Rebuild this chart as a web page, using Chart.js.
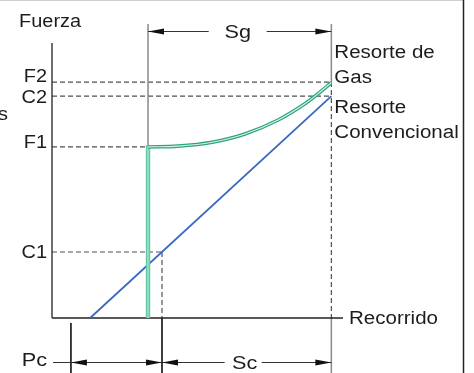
<!DOCTYPE html>
<html lang="es">
<head>
<meta charset="UTF-8"/>
<title>Resorte de Gas vs Resorte Convencional</title>
<script src="https://cdn.jsdelivr.net/npm/chart.js"></script>
<style>
  *{box-sizing:border-box;margin:0;padding:0}
  body{background:#fff;width:474px;height:373px;overflow:hidden}
  #wrap{position:relative;width:474px;height:373px}
</style>
</head>
<body>
<div id="wrap"><canvas id="chart"></canvas></div>
<script>
  // recorrido (x) y fuerza (y) en unidades relativas 0-100
  const gasX = [33, 43.3, 55, 66.3, 77.7, 86.9, 91.5, 96];
  const gasY = [62.2, 62.5, 63.9, 66.9, 72.0, 77.9, 81.6, 85.6];
  const convX = [13.1, 96];
  const convY = [0, 80.7];

  // marcas de fuerza en el eje y
  const forceLabels = ['F2', 'C2', 'F1', 'C1'];
  const forceValues = [85.8, 80.7, 62.2, 24];
  // hasta dónde llega cada línea guía
  const forceEnds = [96, 96, 33, 37.8];

  // marcas de recorrido
  const pcStart = 6.5, gasStart = 33, c1Stroke = 37.8, strokeEnd = 96;
  const topY = 106.9, sgY = 104.4, dimY = -16, botY = -20;

  const pts = (xs, ys) => xs.map((v, i) => ({x: v, y: ys[i]}));
  const seg = (xs, ys, color, width, dash, smooth) => ({
    data: pts(xs, ys), showLine: true, borderColor: color, borderWidth: width,
    borderDash: dash || [], pointRadius: 0, clip: false,
    cubicInterpolationMode: smooth ? 'monotone' : 'default', tension: 0,
    borderCapStyle: 'butt'
  });

  const DASH = [5, 3], DC = '#505050', GRAY = '#8a8a8a', AX = '#222';

  const datasets = [
    seg(gasX, gasY, '#d6f4e9', 1.2, null, true),
    seg(gasX, gasY, '#2ea47b', 3.6, null, true),
    seg([gasStart, gasStart], [0, gasY[0]], '#8edcc0', 2.4),
    seg([gasStart, gasStart], [0, gasY[0] + 0.6], '#5cc39f', 4.4),
    seg(convX, convY, '#3a69c0', 1.8),
    // ejes
    seg([0, 0], [0, 100], AX, 1.3),
    seg([0, 100], [0, 0], AX, 1.3),
    // verticales grises de Sg
    seg([gasStart, gasStart], [0, topY], GRAY, 1.5),
    seg([strokeEnd, strokeEnd], [forceValues[0], topY], GRAY, 1.5),
    // guías discontinuas
    ...forceValues.map((v, i) => seg([0, forceEnds[i]], [v, v], DC, 1.2, DASH)),
    seg([c1Stroke, c1Stroke], [forceValues[3], 0], DC, 1.2, DASH),
    seg([strokeEnd, strokeEnd], [forceValues[0], 0], DC, 1.2, DASH),
    // prolongaciones bajo el eje
    seg([pcStart, pcStart], [-1.8, botY], AX, 1),
    seg([c1Stroke, c1Stroke], [0, botY], AX, 1),
    seg([strokeEnd, strokeEnd], [0, botY], GRAY, 1.5)
  ];

  const SX = 1.14;
  function txt(ctx, s, x, y, size, align) {
    ctx.save();
    ctx.font = size + 'px "Liberation Sans", Arial, sans-serif';
    const w = ctx.measureText(s).width * SX;
    const x0 = align === 'right' ? x - w : align === 'center' ? x - w / 2 : x;
    ctx.translate(x0, y);
    ctx.scale(SX, 1);
    ctx.fillStyle = '#1c1c1c';
    ctx.textBaseline = 'alphabetic';
    ctx.fillText(s, 0, 0);
    ctx.restore();
  }
  function head(ctx, x, y, dir) {
    ctx.beginPath();
    ctx.moveTo(x, y);
    ctx.lineTo(x + dir * 16, y - 3);
    ctx.lineTo(x + dir * 16, y + 3);
    ctx.closePath();
    ctx.fill();
  }
  function hline(ctx, a, b, y) {
    ctx.beginPath(); ctx.moveTo(a, y); ctx.lineTo(b, y); ctx.stroke();
  }

  const annot = {
    id: 'annot',
    afterDraw(chart) {
      const {ctx, scales: {x, y}} = chart;
      const px = v => x.getPixelForValue(v), py = v => y.getPixelForValue(v);
      ctx.save();
      // marco
      ctx.strokeStyle = '#cfcfcf'; ctx.lineWidth = 1;
      hline(ctx, 0, 464, 0.5);
      ctx.strokeStyle = '#222'; ctx.lineWidth = 1.5;
      ctx.beginPath(); ctx.moveTo(463.5, 0); ctx.lineTo(463.5, 373); ctx.stroke();

      // cotas
      ctx.fillStyle = '#111'; ctx.strokeStyle = '#333'; ctx.lineWidth = 1;
      const sgY0 = Math.round(py(sgY)) + 0.5;
      const a = px(gasStart), b = px(strokeEnd), mid = (a + b) / 2 - 2;
      hline(ctx, a, mid - 29, sgY0); hline(ctx, mid + 29, b, sgY0);
      head(ctx, a, sgY0, 1); head(ctx, b, sgY0, -1);
      txt(ctx, 'Sg', mid, sgY0 + 6, 19, 'center');

      const dY = Math.round(py(dimY)) + 0.5;
      const p0 = px(pcStart), c = px(c1Stroke);
      hline(ctx, px(0) + 1, c, dY);
      head(ctx, p0, dY, 1); head(ctx, c, dY, -1);
      const smid = (c + b) / 2 - 2;
      hline(ctx, c, smid - 20, dY); hline(ctx, smid + 17, b, dY);
      head(ctx, c, dY, 1); head(ctx, b, dY, -1);
      txt(ctx, 'Pc', px(0) - 5, dY + 3, 19, 'right');
      txt(ctx, 'Sc', smid, dY + 6, 19, 'center');

      // textos
      txt(ctx, 'Fuerza', 19, 27, 17.5, 'left');
      txt(ctx, 's', 8, 120, 18, 'right');
      const offs = [0, 7, 1, 6];
      forceLabels.forEach((l, i) => txt(ctx, l, px(0) - 5, py(forceValues[i]) + offs[i], 17.5, 'right'));
      const rx = px(strokeEnd) + 3;
      txt(ctx, 'Resorte de', rx, py(forceValues[0]) - 24, 18, 'left');
      txt(ctx, 'Gas', rx, py(forceValues[0]) + 1, 18, 'left');
      txt(ctx, 'Resorte', rx, py(forceValues[1]) + 17, 18, 'left');
      txt(ctx, 'Convencional', rx, py(forceValues[1]) + 42, 18, 'left');
      txt(ctx, 'Recorrido', px(100) + 6, py(0) + 6, 18, 'left');
      ctx.restore();
    }
  };

  new Chart(document.getElementById('chart'), {
    type: 'scatter',
    data: {datasets},
    options: {
      responsive: true, maintainAspectRatio: false, animation: false,
      layout: {padding: {left: 52, right: 131, top: 43, bottom: 55}},
      scales: {
        x: {type: 'linear', min: 0, max: 100, display: false},
        y: {type: 'linear', min: 0, max: 100, display: false}
      },
      plugins: {legend: {display: false}, tooltip: {enabled: false}}
    },
    plugins: [annot]
  });
</script>
</body>
</html>
